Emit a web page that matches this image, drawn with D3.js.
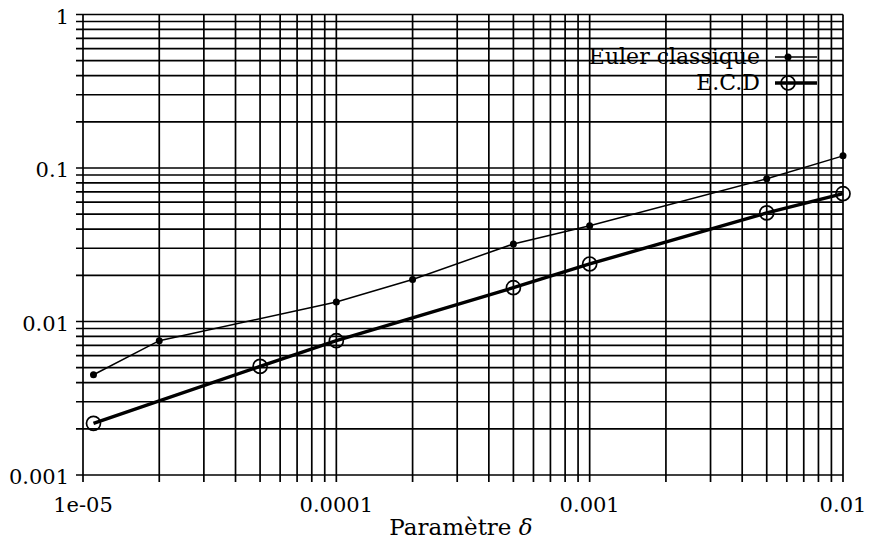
<!DOCTYPE html>
<html><head><meta charset="utf-8">
<script src="https://cdn.jsdelivr.net/npm/d3@7"></script>
<style>body{margin:0;background:#fff}svg{display:block}text{font-family:"DejaVu Serif","Liberation Serif",serif;fill:#000}</style>
</head><body><svg id="c" width="870" height="554"></svg>
<script>
const xDeltas = [1.1e-5, 2e-5, 1e-4, 2e-4, 5e-4, 1e-3, 5e-3, 1e-2];
const eulerValues = [0.0045, 0.0075, 0.0134, 0.0188, 0.032, 0.042, 0.085, 0.12];
const ecdDeltas = [1.1e-5, 5e-5, 1e-4, 5e-4, 1e-3, 5e-3, 1e-2];
const ecdValues = [0.00217, 0.0051, 0.0075, 0.0166, 0.0237, 0.051, 0.068];
const xTickValues = [1e-5, 1e-4, 1e-3, 1e-2];
const xTickLabels = ["1e-05", "0.0001", "0.001", "0.01"];
const yTickValues = [0.001, 0.01, 0.1, 1];
const yTickLabels = ["0.001", "0.01", "0.1", "1"];
const seriesNames = ["Euler classique", "E.C.D"];

const svg = d3.select("#c");
const L = 83, R = 843, T = 14.5, B = 475;
const x = d3.scaleLog().domain([1e-5, 1e-2]).range([L, R]);
const y = d3.scaleLog().domain([1e-3, 1]).range([B, T]);

const xGrid = [], yGrid = [];
for (let e = -5; e <= -2; e++) for (let m = 1; m <= 9; m++) { const v = m * Math.pow(10, e); if (v <= 1e-2 * 1.0001) xGrid.push(v); }
for (let e = -3; e <= 0; e++) for (let m = 1; m <= 9; m++) { const v = m * Math.pow(10, e); if (v <= 1.0001) yGrid.push(v); }

const g = svg.append("g");
g.selectAll("line.vx").data(xGrid).join("line")
  .attr("x1", d => x(d)).attr("x2", d => x(d))
  .attr("y1", T).attr("y2", B + 7)
  .attr("stroke", "#000").attr("stroke-width", 1.7);
g.selectAll("line.hy").data(yGrid).join("line")
  .attr("y1", d => y(d)).attr("y2", d => y(d))
  .attr("x1", L - 7).attr("x2", R)
  .attr("stroke", "#000").attr("stroke-width", 1.7);

g.selectAll("text.xt").data(xTickValues).join("text")
  .attr("x", d => x(d)).attr("y", B + 37)
  .attr("text-anchor", "middle").attr("font-size", 21)
  .text((d, i) => xTickLabels[i]);
g.selectAll("text.yt").data(yTickValues).join("text")
  .attr("x", L - 14).attr("y", d => y(d) + 9)
  .attr("text-anchor", "end").attr("font-size", 21)
  .text((d, i) => yTickLabels[i]);

const t = svg.append("text").attr("x", 461).attr("y", 535).attr("text-anchor", "middle").attr("font-size", 23);
t.append("tspan").text("Paramètre ");
t.append("tspan").attr("font-style", "italic").text("δ");

const euler = xDeltas.map((d, i) => [d, eulerValues[i]]);
const ecd = ecdDeltas.map((d, i) => [d, ecdValues[i]]);
const line = d3.line().x(d => x(d[0])).y(d => y(d[1]));

svg.append("path").attr("d", line(euler)).attr("fill", "none").attr("stroke", "#000").attr("stroke-width", 1.5);
svg.selectAll("circle.eu").data(euler).join("circle")
  .attr("cx", d => x(d[0])).attr("cy", d => y(d[1])).attr("r", 3.5).attr("fill", "#000");

svg.append("path").attr("d", line(ecd)).attr("fill", "none").attr("stroke", "#000").attr("stroke-width", 3.4);
svg.selectAll("circle.ec").data(ecd).join("circle")
  .attr("cx", d => x(d[0])).attr("cy", d => y(d[1])).attr("r", 7)
  .attr("fill", "none").attr("stroke", "#000").attr("stroke-width", 1.7);

const lg = svg.append("g");
const ly = [57, 83];
seriesNames.forEach((n, i) => {
  lg.append("text").attr("x", 760).attr("y", ly[i] + 7).attr("text-anchor", "end").attr("font-size", 22).text(n);
  lg.append("line").attr("x1", 775).attr("x2", 817).attr("y1", ly[i]).attr("y2", ly[i])
    .attr("stroke", "#000").attr("stroke-width", i === 0 ? 1.5 : 3.4);
  if (i === 0) lg.append("circle").attr("cx", 788).attr("cy", ly[i]).attr("r", 3.5).attr("fill", "#000");
  else lg.append("circle").attr("cx", 788).attr("cy", ly[i]).attr("r", 7).attr("fill", "none").attr("stroke", "#000").attr("stroke-width", 1.7);
});
</script></body></html>
